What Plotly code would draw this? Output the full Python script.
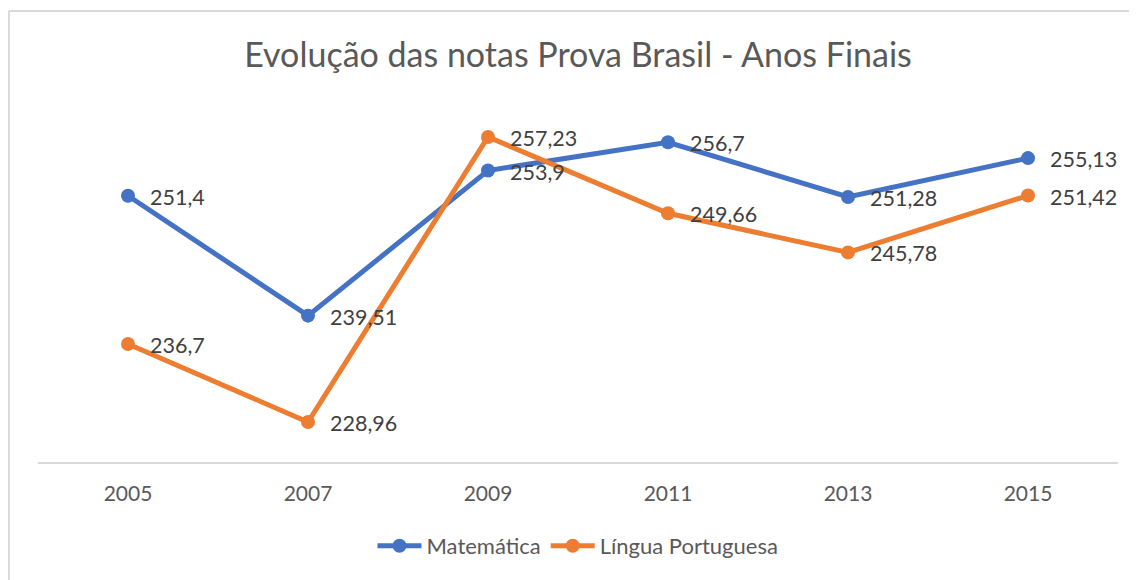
import plotly.graph_objects as go

anos = ["2005", "2007", "2009", "2011", "2013", "2015"]
matematica = [251.4, 239.51, 253.9, 256.7, 251.28, 255.13]
portugues = [236.7, 228.96, 257.23, 249.66, 245.78, 251.42]
series = [("Matemática", matematica, "#4472C4"), ("Língua Portuguesa", portugues, "#ED7D31")]

FONT = "Lato"
fig = go.Figure()
for name, vals, color in series:
    fig.add_trace(go.Scatter(
        x=anos, y=vals, name=name, mode="lines+markers",
        line=dict(color=color, width=5),
        marker=dict(size=14, color=color),
        hoverinfo="skip",
    ))
    for i, v in enumerate(vals):
        fig.add_annotation(
            x=i, y=v, text=str(v).replace(".", ","), showarrow=False,
            xanchor="left", yanchor="middle", xshift=20, yshift=-1,
            font=dict(family=FONT, size=21.5, color="#404040"),
        )

# page body has an 8px margin; figure is sized to fit the window
H_PLOT_TOP = 101
H_PLOT_BOT = 454
ph = H_PLOT_BOT - H_PLOT_TOP
top_border = (H_PLOT_BOT - 3) / ph
fig.add_shape(type="line", xref="paper", yref="paper",
              x0=-0.0269, x1=1.05, y0=top_border, y1=top_border,
              line=dict(color="#D9D9D9", width=2))
fig.add_shape(type="line", xref="paper", yref="paper",
              x0=-0.0269, x1=-0.0269, y0=top_border, y1=-0.5,
              line=dict(color="#D9D9D9", width=2))

fig.update_layout(
    width=1129, height=572,
    margin=dict(l=30, r=19, t=H_PLOT_TOP, b=572 - H_PLOT_BOT),
    paper_bgcolor="white", plot_bgcolor="white",
    title=dict(text="Evolução das notas Prova Brasil - Anos Finais",
               x=570 / 1129, xanchor="center", y=1 - 47 / 572, yanchor="middle",
               font=dict(family=FONT, size=34, color="#595959")),
    xaxis=dict(type="category", showgrid=False, zeroline=False,
               showline=True, linecolor="#D9D9D9", linewidth=2,
               ticks="", tickfont=dict(family=FONT, size=21, color="#595959"),
               range=[-0.5, 5.5], ticklabelstandoff=12),
    yaxis=dict(range=[225, 260], visible=False),
    showlegend=True,
    legend=dict(orientation="h", x=0.5, xanchor="center", y=-0.238, yanchor="middle",
                font=dict(family=FONT, size=22, color="#595959"),
                itemwidth=44, tracegroupgap=0),
    hovermode=False,
)

fig.write_html("out.html")
